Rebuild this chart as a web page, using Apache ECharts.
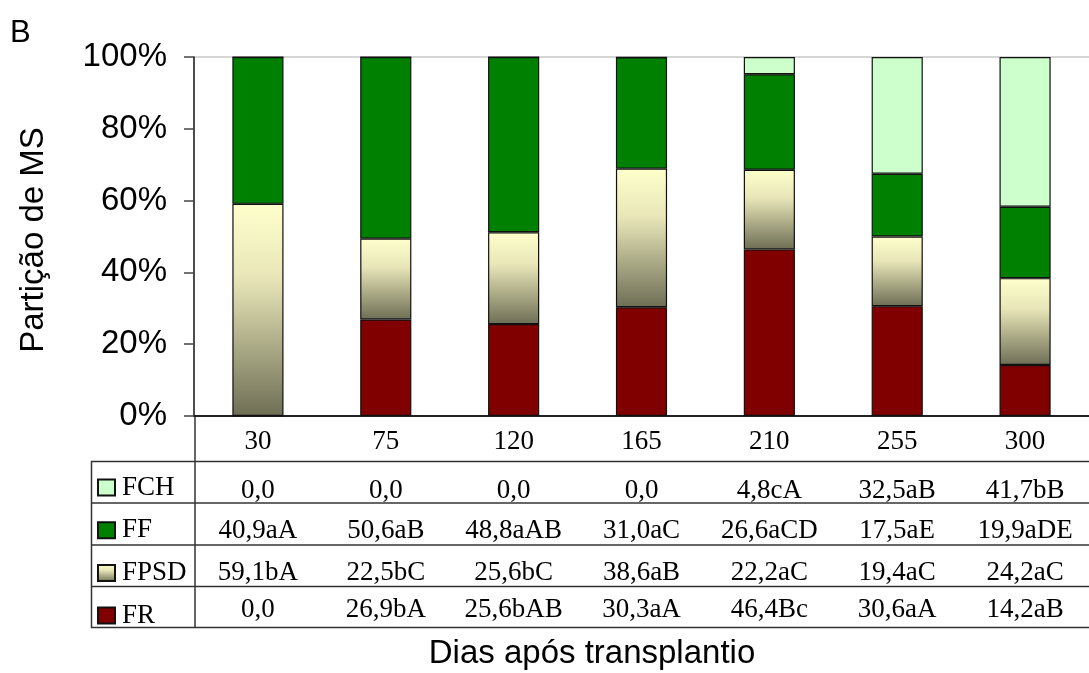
<!DOCTYPE html>
<html>
<head>
<meta charset="utf-8">
<script src="https://cdn.jsdelivr.net/npm/echarts@6/dist/echarts.min.js"></script>
<style>html,body{margin:0;padding:0;background:#fff}#c{width:1089px;height:673px}</style>
</head>
<body>
<div id="c"></div>
<script>
// Data
var categories = ['30', '75', '120', '165', '210', '255', '300'];
var yTicks = [0, 20, 40, 60, 80, 100];
var FR   = [0, 26.9, 25.6, 30.3, 46.4, 30.6, 14.2];
var FPSD = [59.1, 22.5, 25.6, 38.6, 22.2, 19.4, 24.2];
var FF   = [40.9, 50.6, 48.8, 31.0, 26.6, 17.5, 19.9];
var FCH  = [0, 0, 0, 0, 4.8, 32.5, 41.7];
var fchLabels  = ['0,0', '0,0', '0,0', '0,0', '4,8cA', '32,5aB', '41,7bB'];
var ffLabels   = ['40,9aA', '50,6aB', '48,8aAB', '31,0aC', '26,6aCD', '17,5aE', '19,9aDE'];
var fpsdLabels = ['59,1bA', '22,5bC', '25,6bC', '38,6aB', '22,2aC', '19,4aC', '24,2aC'];
var frLabels   = ['0,0', '26,9bA', '25,6bAB', '30,3aA', '46,4Bc', '30,6aA', '14,2aB'];

var SANS = "'Liberation Sans', Arial, sans-serif";
var SERIF = "'Liberation Serif', 'Times New Roman', serif";
var TFS = 27;

var chart = echarts.init(document.getElementById('c'), null, {renderer: 'canvas'});

function rowAxis(labels, margin) {
  return {
    type: 'category', data: categories, position: 'bottom', offset: 0, gridIndex: 0,
    axisLine: {show: false}, axisTick: {show: false}, splitLine: {show: false},
    axisLabel: {
      interval: 0, margin: margin, verticalAlign: 'middle', color: '#000',
      fontFamily: SERIF, fontSize: TFS,
      formatter: function (v, i) { return labels[i]; }
    }
  };
}

var border = {borderColor: '#111', borderWidth: 1.2};
function bar(name, data, color) {
  return {
    name: name, type: 'bar', stack: 'all', data: data, barWidth: '40%',
    itemStyle: Object.assign({color: color}, border),
    emphasis: {disabled: true}
  };
}

var lineStyle = {stroke: '#333', lineWidth: 1.5};
var hLines = [461.5, 503, 545, 586.5, 627.5].map(function (y) {
  return {type: 'line', shape: {x1: 91, y1: y, x2: 1089, y2: y}, style: lineStyle, silent: true};
});

chart.setOption({
  animation: false,
  title: {
    text: 'B', left: 10, top: 18, padding: 0,
    textStyle: {fontFamily: SANS, fontSize: 31, fontWeight: 'normal', color: '#000'}
  },
  grid: {left: 194, top: 57, width: 910, height: 359, containLabel: false},
  legend: {
    orient: 'vertical', left: 97, top: 474, padding: 0, itemGap: 15.7,
    itemWidth: 17, itemHeight: 16, selectedMode: false, icon: 'rect',
    data: ['FCH', 'FF', 'FPSD', 'FR'],
    textStyle: {fontFamily: SERIF, fontSize: TFS, color: '#000', lineHeight: 26, padding: [0, 0, 0, 2]}
  },
  xAxis: [
    {
      type: 'category', data: categories, position: 'bottom',
      axisLine: {show: true, lineStyle: {color: '#222', width: 2}},
      axisTick: {show: false},
      axisLabel: {interval: 0, margin: 26, verticalAlign: 'middle', color: '#000', fontFamily: SERIF, fontSize: TFS}
    },
    rowAxis(fchLabels, 75),
    rowAxis(ffLabels, 115),
    rowAxis(fpsdLabels, 157),
    rowAxis(frLabels, 194)
  ],
  yAxis: {
    type: 'value', min: yTicks[0], max: yTicks[yTicks.length - 1], interval: 20,
    axisLine: {show: true, lineStyle: {color: '#111', width: 1.5}},
    axisTick: {show: true, length: 10, lineStyle: {color: '#444', width: 1.5}},
    axisLabel: {margin: 27, color: '#000', fontFamily: SANS, fontSize: 33, formatter: '{value}%'},
    splitLine: {show: true, lineStyle: {color: ['transparent', 'transparent', 'transparent', 'transparent', 'transparent', '#c8c8c8'], width: 1.5}}
  },
  series: [
    bar('FR', FR, '#800000'),
    bar('FPSD', FPSD, new echarts.graphic.LinearGradient(0, 0, 0, 1, [
      {offset: 0, color: '#FFFFCC'}, {offset: 0.35, color: '#E8E6B8'}, {offset: 1, color: '#6E6E55'}
    ])),
    bar('FF', FF, '#008000'),
    bar('FCH', FCH, '#CCFFCC')
  ],
  graphic: hLines.concat([
    {type: 'line', shape: {x1: 91.5, y1: 461, x2: 91.5, y2: 628}, style: lineStyle, silent: true},
    {type: 'line', shape: {x1: 195, y1: 416, x2: 195, y2: 628}, style: lineStyle, silent: true},
    {type: 'text', x: 592, y: 654, silent: true,
     style: {text: 'Dias após transplantio', fill: '#000', font: '33px ' + SANS, align: 'center', verticalAlign: 'middle'}},
    {type: 'text', x: 34, y: 240, rotation: Math.PI / 2, silent: true,
     style: {text: 'Partição de MS', fill: '#000', font: '33px ' + SANS, align: 'center', verticalAlign: 'middle'}}
  ])
});
</script>
</body>
</html>
